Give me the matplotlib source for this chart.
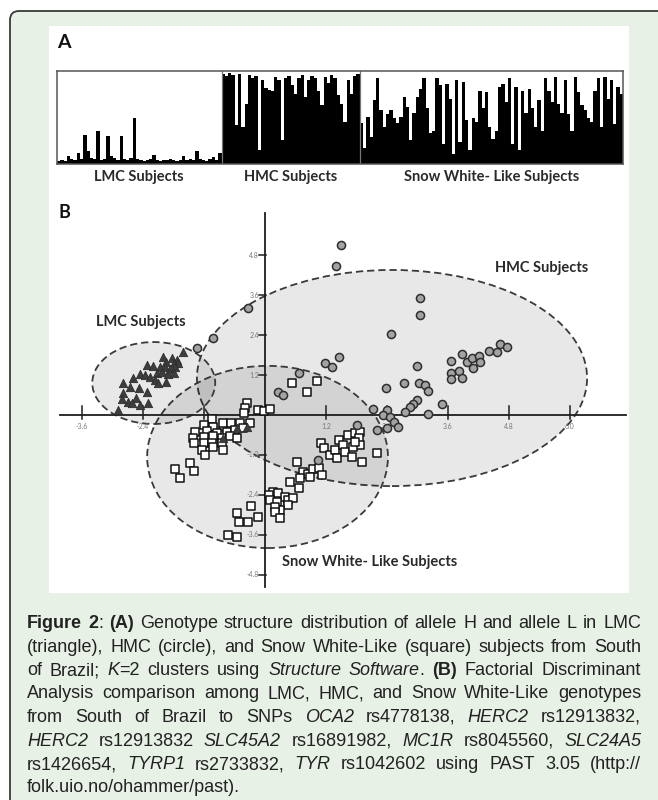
import numpy as np
import matplotlib
matplotlib.use("Agg")
import matplotlib.pyplot as plt
from matplotlib.patches import Ellipse, FancyBboxPatch, Rectangle

# ---- panel A: structure plot (fraction of cluster 2 per subject) ----
LMC_Q = [0.03, 0.04, 0.03, 0.09, 0.05, 0.04, 0.12, 0.05, 0.31, 0.14,
         0.06, 0.05, 0.35, 0.04, 0.05, 0.30, 0.09, 0.06, 0.04, 0.30,
         0.05, 0.04, 0.06, 0.50, 0.05, 0.04, 0.03, 0.04, 0.05, 0.10,
         0.04, 0.03, 0.04, 0.04, 0.05, 0.04, 0.03, 0.04, 0.09, 0.04,
         0.05, 0.04, 0.14, 0.05, 0.04, 0.03, 0.05, 0.07, 0.04, 0.12]
HMC_Q = [0.97, 0.95, 0.98, 0.96, 0.42, 0.97, 0.40, 0.65, 0.96, 0.93,
         0.95, 0.15, 0.90, 0.82, 0.80, 0.78, 0.94, 0.90, 0.26, 0.92,
         0.95, 0.85, 0.75, 0.93, 0.96, 0.72, 0.90, 0.95, 0.93, 0.78,
         0.63, 0.94, 0.87, 0.96, 0.92, 0.74, 0.65, 0.45, 0.90, 0.75,
         0.95, 0.97]
SW_Q = [0.44, 0.17, 0.51, 0.29, 0.69, 0.92, 0.58, 0.40, 0.54, 0.58,
        0.50, 0.44, 0.51, 0.72, 0.61, 0.26, 0.55, 0.72, 0.81, 0.92,
        0.60, 0.33, 0.35, 0.92, 0.85, 0.22, 0.86, 0.70, 0.11, 0.90,
        0.24, 0.88, 0.47, 0.15, 0.50, 0.45, 0.79, 0.60, 0.77, 0.40,
        0.27, 0.35, 0.83, 0.86, 0.67, 0.92, 0.22, 0.83, 0.15, 0.79,
        0.55, 0.81, 0.60, 0.40, 0.69, 0.36, 0.92, 0.79, 0.67, 0.94,
        0.65, 0.55, 0.90, 0.54, 0.36, 0.94, 0.77, 0.63, 0.58, 0.50,
        0.45, 0.79, 0.92, 0.40, 0.94, 0.70, 0.90, 0.43, 0.83, 0.75]
A_LABELS = ["LMC Subjects", "HMC Subjects", "Snow White- Like Subjects"]

# ---- panel B: discriminant scores ----
LMC_X = [-1.62, -2.00, -1.84, -1.74, -1.94, -1.80, -1.71, -2.33, -2.20, -2.07,
         -1.97, -1.87, -1.77, -2.46, -2.36, -2.13, -2.26, -2.03, -1.90, -1.80,
         -2.59, -2.17, -2.10, -1.94, -2.79, -2.66, -2.49, -2.33, -2.79, -2.82,
         -2.69, -2.53, -2.62, -2.46, -2.89, -2.30, -0.83, -0.56, -0.36]
LMC_Y = [1.88, 1.75, 1.70, 1.65, 1.60, 1.55, 1.55, 1.50, 1.48, 1.45,
         1.43, 1.38, 1.43, 1.22, 1.20, 1.27, 1.15, 1.30, 1.22, 1.25,
         1.10, 1.05, 0.97, 1.00, 0.95, 0.83, 0.80, 0.70, 0.65, 0.48,
         0.40, 0.50, 0.35, 0.30, 0.15, 0.35, -0.70, -0.40, -0.35]

HMC_X = [-1.34, -1.03, -0.33, 1.50, 1.39, 1.18, 1.31, 1.46, 0.66, 0.26, 0.36,
         3.06, 3.06, 2.48, 3.00, 3.67, 3.88, 3.97, 4.08, 4.21, 4.23, 4.10,
         4.40, 4.56, 4.63, 4.76, 3.67, 3.82, 3.67, 3.88, 2.38, 2.74, 3.04,
         3.15, 3.21, 3.48, 3.00, 2.92, 2.85, 2.76, 3.20, 2.13, 2.40, 2.33,
         2.46, 2.53, 2.62, 2.40, 2.21, 1.82, 1.05]
HMC_Y = [2.02, 2.32, 3.20, 5.10, 4.47, 1.55, 1.43, 1.73, 1.25, 0.70, 0.60,
         3.50, 3.00, 2.42, 1.47, 1.63, 1.83, 1.58, 1.70, 1.78, 1.60, 1.40,
         1.92, 1.88, 2.13, 2.05, 1.27, 1.33, 1.07, 1.12, 0.80, 0.95, 0.95,
         0.90, 0.73, 0.33, 0.45, 0.32, 0.25, 0.10, 0.02, 0.18, 0.15, 0.00,
         -0.05, -0.20, -0.35, -0.40, -0.45, -0.30, -1.35]

SW_X = [-0.35, -0.39, -0.41, -0.13, -0.02, 0.10, 0.54, 0.82, 1.02,
        -1.05, -1.21, -1.02, -0.82, -0.66, -0.49, -0.30, -1.38, -1.15, -0.95,
        -0.75, -0.59, -0.43, -1.41, -1.21, -1.02, -0.85, -0.69, -0.56, -1.40,
        -1.21, -1.05, -0.85, -1.25, -1.18, -1.02, -0.82,
        -1.77, -1.67, -1.48, -1.39,
        0.62, 0.75, 0.85, 0.94, 1.07, 1.12, 0.89, 0.69, 0.49, 0.66,
        0.16, 0.07, 0.26, 0.39, 0.46, 0.56, 0.10, 0.23, 0.46, 0.30, 0.20,
        -0.28, -0.56, -0.52, -0.33, -0.13, 0.20, 0.30, -0.73, -0.56,
        1.10, 1.16, 1.28, 1.38, 1.42, 1.46, 1.53, 1.64, 1.57, 1.71,
        1.77, 1.87, 1.86, 1.87, 1.74, 1.77, 1.90, 2.20]
SW_Y = [0.35, 0.20, 0.07, 0.15, 0.13, 0.17, 0.97, 0.70, 1.02,
        -0.13, -0.30, -0.35, -0.25, -0.25, -0.25, -0.25, -0.50, -0.47, -0.55,
        -0.50, -0.45, -0.40, -0.70, -0.65, -0.63, -0.70, -0.63, -0.70, -0.85,
        -0.85, -0.85, -0.85, -1.05, -1.20, -0.95, -1.05,
        -1.63, -1.90, -1.45, -1.67,
        -1.40, -1.70, -1.77, -1.63, -1.60, -1.80, -1.87, -1.90, -2.00, -2.20,
        -2.30, -2.40, -2.35, -2.45, -2.55, -2.50, -2.55, -2.60, -2.70, -2.85, -2.75,
        -2.73, -2.93, -3.20, -3.20, -3.07, -2.90, -3.10, -3.60, -3.65,
        -0.83, -1.00, -1.20, -1.05, -1.30, -0.75, -0.90, -0.60, -1.10, -1.25,
        -0.55, -0.50, -0.70, -0.90, -0.95, -0.80, -1.40, -1.15]

TICKS = [-4.8, -3.6, -2.4, -1.2, 1.2, 2.4, 3.6, 4.8, 6.0]

CAPTION = [
    "**Figure 2**: **(A)** Genotype structure distribution of allele H and allele L in LMC",
    "(triangle), HMC (circle), and Snow White-Like (square) subjects from South",
    "of Brazil; _K_=2 clusters using _Structure Software_. **(B)** Factorial Discriminant",
    "Analysis comparison among LMC, HMC, and Snow White-Like genotypes",
    "from South of Brazil to SNPs _OCA2_ rs4778138, _HERC2_ rs12913832,",
    "_HERC2_ rs12913832 _SLC45A2_ rs16891982, _MC1R_ rs8045560, _SLC24A5_",
    "rs1426654, _TYRP1_ rs2733832, _TYR_ rs1042602 using PAST 3.05 (http://",
    "folk.uio.no/ohammer/past).",
]

W, H = 658, 800
GREEN = "#e8f1e6"
LABEL_FONT = "Lato"


def box(l, t, r, b):
    # pixel box (top-down) -> figure fraction rect
    return [l / W, 1 - b / H, (r - l) / W, (b - t) / H]


fig = plt.figure(figsize=(W / 100, H / 100), dpi=100)
bg = fig.add_axes([0, 0, 1, 1])
bg.set_xlim(0, W)
bg.set_ylim(H, 0)
bg.axis("off")

bg.add_patch(FancyBboxPatch((10, 11), 700, 850, boxstyle="round,pad=0,rounding_size=9",
                            fc=GREEN, ec="#3a3a3a", lw=1.3))
bg.add_patch(Rectangle((49, 26), 580, 567, fc="white", ec="none"))

# ---------------- panel A ----------------
bg.text(57, 43, "A", fontsize=14, fontweight="bold", family=LABEL_FONT,
        va="center", ha="left", color="#111")
axA = fig.add_axes(box(57, 71, 623, 164))
q = LMC_Q + HMC_Q + SW_Q
n = len(q)
axA.bar(np.arange(n), q, width=1.0, align="edge", color="black", linewidth=0)
axA.set_xlim(0, n)
axA.set_ylim(0, 1)
axA.set_xticks([])
axA.set_yticks([])
for s in axA.spines.values():
    s.set_color("#555")
    s.set_linewidth(1.1)
bounds = [0, len(LMC_Q), len(LMC_Q) + len(HMC_Q), n]
for b in bounds[1:-1]:
    axA.axvline(b, color="#777", lw=0.9)
for i, lab in enumerate(A_LABELS):
    xa = 57 + (623 - 57) * (bounds[i] + bounds[i + 1]) / 2 / n
    bg.text(xa, 177, lab, fontsize=10.5, fontweight="bold", family=LABEL_FONT,
            ha="center", va="center", color="#2a2a2a")

# ---------------- panel B ----------------
bg.text(58, 212, "B", fontsize=13, fontweight="bold", family=LABEL_FONT,
        va="center", ha="left", color="#111")
axB = fig.add_axes(box(49, 200, 629, 593))
axB.set_facecolor("none")
axB.axis("off")
axB.set_xlim(-4.252, 7.165)
axB.set_ylim(-5.345, 6.456)

dash = (0, (4, 2.2))
for (cx, cy, w, h) in [(2.5, 1.11, 7.68, 6.49), (0.05, -1.26, 4.74, 5.47), (-2.19, 0.96, 2.42, 2.46)]:
    axB.add_patch(Ellipse((cx, cy), w, h, fc=(0, 0, 0, 0.09), ec="#3a3a3a",
                          lw=1.3, ls=dash, zorder=1))

axB.plot([-4.04, 7.1], [0, 0], color="#1e1e1e", lw=1.3, zorder=2)
axB.plot([0, 0], [-5.15, 6.06], color="#1e1e1e", lw=1.3, zorder=2)
for t in TICKS:
    if t > -4:
        axB.plot([t, t], [-0.12, 0.27], color="#1e1e1e", lw=1.1, zorder=2)
        axB.text(t, -0.36, f"{t:.1f}", fontsize=5, family=LABEL_FONT, color="#777",
                 ha="center", va="center", zorder=2)
    if -5.2 < t < 6:
        axB.plot([-0.11, 0.02], [t, t], color="#1e1e1e", lw=1.1, zorder=2)
        axB.text(-0.12, t, f"{t:.1f}", fontsize=5, family=LABEL_FONT, color="#777",
                 ha="right", va="center", zorder=2)

axB.scatter(SW_X, SW_Y, marker="s", s=40, facecolor="white", edgecolor="#111",
            linewidth=1.1, zorder=3)
axB.scatter(HMC_X, HMC_Y, marker="o", s=34, facecolor="#a3a3a3", edgecolor="#2e2e2e",
            linewidth=1.1, zorder=3)
axB.scatter(LMC_X, LMC_Y, marker="^", s=36, facecolor="#3d3d3d", edgecolor="#2d2d2d",
            linewidth=0.6, zorder=4)

bg.text(141, 322, "LMC Subjects", fontsize=10.5, fontweight="bold", family=LABEL_FONT,
        ha="center", va="center", color="#2a2a2a")
bg.text(542, 268, "HMC Subjects", fontsize=10.5, fontweight="bold", family=LABEL_FONT,
        ha="center", va="center", color="#2a2a2a")
bg.text(370, 562, "Snow White- Like Subjects", fontsize=10.5, fontweight="bold",
        family=LABEL_FONT, ha="center", va="center", color="#2a2a2a")


# ---------------- caption (justified) ----------------
def parse(line):
    style, chars, i = "n", [], 0
    while i < len(line):
        if line.startswith("**", i):
            style = "n" if style == "b" else "b"
            i += 2
            continue
        if line[i] == "_":
            style = "n" if style == "i" else "i"
            i += 1
            continue
        chars.append((line[i], style))
        i += 1
    words, cur = [], []
    for ch, st in chars:
        if ch == " ":
            if cur:
                words.append(cur)
                cur = []
        elif cur and cur[-1][1] == st:
            cur[-1] = (cur[-1][0] + ch, st)
        else:
            cur.append((ch, st))
    if cur:
        words.append(cur)
    return words


renderer = fig.canvas.get_renderer()
CAP_SIZE = 13
CAP_X0, CAP_X1 = 27, 641
cap_y = 628
for li, line in enumerate(CAPTION):
    words = parse(line)
    arts = []
    for wd in words:
        pieces = []
        for txt, st in wd:
            t = bg.text(0, 0, txt, fontsize=CAP_SIZE, family="Liberation Sans",
                        fontweight="bold" if st == "b" else "normal",
                        fontstyle="italic" if st == "i" else "normal",
                        color="#222", va="baseline", ha="left")
            pieces.append((t, t.get_window_extent(renderer).width))
        arts.append(pieces)
    widths = [sum(p[1] for p in pcs) for pcs in arts]
    if li < len(CAPTION) - 1 and len(words) > 1:
        gap = (CAP_X1 - CAP_X0 - sum(widths)) / (len(words) - 1)
    else:
        gap = 5
    x = CAP_X0
    for pcs, wdt in zip(arts, widths):
        xx = x
        for t, pw in pcs:
            t.set_position((xx, cap_y))
            xx += pw
        x += wdt + gap
    cap_y += 23.5

fig.savefig("out.png", dpi=100)
